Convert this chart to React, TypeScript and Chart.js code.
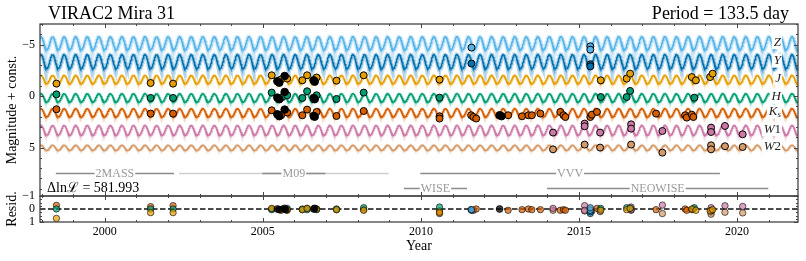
import React, { useEffect, useRef } from "react";
import { Chart, registerables } from "chart.js";
Chart.register(...registerables);

// ---------------- data ----------------
const TITLE_LEFT = "VIRAC2 Mira 31";
const TITLE_RIGHT = "Period = 133.5 day";
const LIKELIHOOD_TEXT = "\u0394ln\u2112 = 581.993";
const PERIOD_DAYS = 133.5;
const BRIGHT_EPOCH = 2005.66; // epoch of model maximum brightness

const X_RANGE = [1997.95, 2021.93];
const X_MAJOR = [2000, 2005, 2010, 2015, 2020];
const MAIN_Y_RANGE = [-7, 9.7];
const MAIN_Y_TICKS = [-5, 0, 5];
const RES_Y_RANGE = [-1, 1];
const RES_Y_TICKS = [-1, 0, 1];

const BANDS = ["Z", "Y", "J", "H", "Ks", "W1", "W2"];
const BAND_MEAN = [-5.13, -3.35, -1.61, 0.17, 1.62, 3.32, 5.02];
const BAND_AMP = [0.63, 0.68, 0.4, 0.4, 0.4, 0.47, 0.25];

const Z_OBS = [[2011.6, -4.71], [2015.36, -4.83], [2015.36, -4.51]];
const Y_OBS = [[2011.6, -3.16], [2015.36, -3.09], [2015.36, -2.89]];
const J_OBS = [[1998.47, -1.21], [2001.45, -1.27], [2002.16, -1.21], [2005.28, -2.02], [2005.58, -1.63], [2005.77, -1.7], [2006.25, -1.53], [2006.4, -2.02], [2006.7, -1.8], [2007.33, -1.5], [2008.19, -2.02], [2010.59, -1.6], [2015.69, -1.53], [2016.51, -1.7], [2016.62, -2.18], [2018.57, -1.85], [2018.7, -1.53], [2019.15, -1.85], [2019.23, -2.18]];
const H_OBS = [[1998.47, -0.17], [2001.45, 0.18], [2002.16, 0.18], [2005.28, -0.34], [2005.62, 0.09], [2005.77, -0.08], [2006.25, 0.18], [2006.4, -0.47], [2006.7, -0.08], [2007.33, 0.28], [2008.19, -0.34], [2010.59, 0.15], [2015.69, 0.09], [2016.51, 0.09], [2016.62, -0.5], [2018.65, 0.15]];
const KS_OBS = [[1998.47, 1.28], [2001.45, 1.7], [2002.16, 1.7], [2005.28, 1.38], [2005.58, 1.86], [2005.77, 1.6], [2006.25, 1.86], [2006.4, 1.31], [2006.7, 1.54], [2007.33, 1.93], [2008.19, 1.45], [2010.59, 1.96], [2010.59, 2.18], [2011.59, 1.86], [2011.66, 2.03], [2011.75, 2.18], [2012.76, 1.86], [2013.2, 1.96], [2013.4, 1.86], [2013.51, 1.86], [2013.78, 1.7], [2014.41, 1.54], [2014.51, 1.86], [2014.57, 2.03], [2015.36, 2.03], [2015.41, 1.8], [2015.57, 1.54], [2017.44, 1.7], [2018.36, 1.86], [2018.41, 2.09], [2018.57, 1.8], [2018.62, 2.03]];
const W1_OBS = [[2014.18, 3.54], [2015.18, 2.67], [2015.18, 2.93], [2015.67, 3.54], [2016.65, 2.74], [2016.65, 3.16], [2017.64, 3.39], [2019.18, 3.06], [2019.18, 3.49], [2019.62, 2.9], [2020.18, 3.71]];
const W2_OBS = [[2014.18, 5.17], [2015.18, 4.71], [2015.67, 5.0], [2016.65, 4.71], [2017.64, 5.49], [2019.18, 4.78], [2019.18, 5.17], [2019.62, 4.87], [2020.18, 4.94]];
const M09_OBS = [[2005.46, -1.44], [2005.52, -1.3], [2005.69, -1.95], [2006.61, -1.53], [2006.64, -1.4], [2005.46, 0.15], [2005.52, 0.3], [2005.69, -0.4], [2006.61, 0.18], [2006.64, 0.3], [2005.46, 1.77], [2005.52, 1.95], [2005.69, 1.31], [2006.61, 1.93], [2006.64, 2.0], [2012.49, 1.86], [2012.55, 1.95]];

const Z_RES = [[2011.6, 0.05], [2015.36, 0.1], [2015.36, -0.1]];
const Y_RES = [[2011.6, 0.1], [2015.36, 0.35], [2015.36, 0.2]];
const J_RES = [[1998.47, 0.72], [2001.45, 0.28], [2002.16, 0.28], [2005.28, -0.05], [2005.58, 0.1], [2005.77, 0.05], [2006.25, 0.05], [2006.4, -0.05], [2006.7, 0.0], [2007.33, 0.05], [2008.19, 0.1], [2010.59, 0.25], [2015.69, 0.1], [2016.51, 0.05], [2016.62, -0.05], [2018.57, 0.0], [2018.7, 0.1], [2019.15, 0.15], [2019.23, 0.05]];
const H_RES = [[1998.47, 0.0], [2001.45, 0.0], [2002.16, 0.0], [2005.28, 0.05], [2005.62, 0.0], [2005.77, -0.05], [2006.25, 0.0], [2006.4, 0.05], [2006.7, 0.05], [2007.33, 0.0], [2008.19, -0.1], [2010.59, -0.15], [2015.69, -0.05], [2016.51, -0.1], [2016.62, -0.05], [2018.65, -0.1]];
const KS_RES = [[1998.47, -0.28], [2001.45, -0.18], [2002.16, -0.26], [2005.28, 0.0], [2005.58, 0.05], [2005.77, 0.1], [2006.25, 0.05], [2006.4, -0.05], [2006.7, 0.0], [2007.33, 0.05], [2008.19, 0.05], [2010.59, 0.15], [2010.59, 0.35], [2011.59, 0.05], [2011.66, 0.1], [2011.75, 0.0], [2012.76, 0.1], [2013.2, 0.05], [2013.4, 0.0], [2013.51, 0.05], [2013.78, 0.05], [2014.41, 0.1], [2014.51, 0.05], [2014.57, 0.1], [2015.36, 0.0], [2015.41, 0.15], [2015.57, -0.05], [2017.44, 0.05], [2018.36, 0.0], [2018.41, 0.1], [2018.57, 0.05], [2018.62, 0.0], [2019.18, 0.1]];
const W1_RES = [[2014.18, -0.05], [2015.18, -0.26], [2015.18, 0.1], [2015.67, 0.05], [2016.65, -0.15], [2016.65, 0.05], [2017.64, -0.3], [2019.18, -0.1], [2019.18, 0.15], [2019.62, -0.25], [2020.18, -0.2]];
const W2_RES = [[2014.18, 0.1], [2015.18, 0.15], [2015.67, 0.2], [2016.65, 0.1], [2017.64, 0.35], [2019.18, 0.25], [2019.18, 0.4], [2019.62, 0.25], [2020.18, 0.3]];
const M09_RES = [[2005.46, 0.0], [2005.52, 0.05], [2005.69, -0.05], [2005.72, 0.05], [2006.61, 0.0], [2006.64, -0.05], [2012.49, 0.0]];

const SURVEY_NAMES = ["2MASS", "", "M09", "VVV", "WISE", "NEOWISE"];
const SURVEY_START = [1998.45, 2002.35, 2004.98, 2009.98, 2009.46, 2013.99];
const SURVEY_END = [2002.19, 2008.98, 2006.98, 2019.46, 2011.46, 2020.99];
const SURVEY_ROW = [0, 0, 0, 0, 1, 1];

// ---------------- styles ----------------
const SERIF = "'Liberation Serif', 'Times New Roman', 'DejaVu Serif', serif";
const AXIS = "#444444";
const BAND_COLORS = ["#56B4E9", "#0072B2", "#E69F00", "#009E73", "#D55E00", "#CC79A7", "#D69A68"];
const SURVEY_ROW_MAG = [7.5, 8.95];

function rgba(hex: string, a: number) {
  const n = parseInt(hex.slice(1), 16);
  return `rgba(${(n >> 16) & 255},${(n >> 8) & 255},${n & 255},${a})`;
}
const fmtTick = (v: number) => (v < 0 ? "\u2212" + Math.abs(v) : String(v));
const toXY = (arr: number[][]) => arr.map(([x, y]) => ({ x, y }));

function modelCurve(i: number) {
  const p = PERIOD_DAYS / 365.25;
  const pts: { x: number; y: number }[] = [];
  const n = Math.round((X_RANGE[1] - X_RANGE[0]) / 0.01);
  for (let k = 0; k <= n; k++) {
    const t = X_RANGE[0] + (k * (X_RANGE[1] - X_RANGE[0])) / n;
    pts.push({ x: t, y: BAND_MEAN[i] - BAND_AMP[i] * Math.cos((2 * Math.PI * (t - BRIGHT_EPOCH)) / p) });
  }
  return pts;
}

function drawTicks(chart: any, yMajor: number[], yMinorStep: number) {
  const { ctx, chartArea: a, scales } = chart;
  const x = scales.x, y = scales.y;
  ctx.save();
  ctx.strokeStyle = AXIS;
  ctx.lineWidth = 1;
  ctx.beginPath();
  for (let yr = Math.ceil(X_RANGE[0]); yr <= X_RANGE[1]; yr++) {
    const len = X_MAJOR.includes(yr) ? 4 : 2;
    const px = Math.round(x.getPixelForValue(yr)) + 0.5;
    ctx.moveTo(px, a.bottom); ctx.lineTo(px, a.bottom - len);
    ctx.moveTo(px, a.top); ctx.lineTo(px, a.top + len);
  }
  const lo = Math.min(y.min, y.max), hi = Math.max(y.min, y.max);
  const start = Math.ceil(lo / yMinorStep - 1e-9);
  for (let k = start; k * yMinorStep <= hi + 1e-9; k++) {
    const v = +(k * yMinorStep).toFixed(4);
    const len = yMajor.includes(v) ? 4 : 2;
    const py = Math.round(y.getPixelForValue(v)) + 0.5;
    ctx.moveTo(a.left, py); ctx.lineTo(a.left + len, py);
    ctx.moveTo(a.right, py); ctx.lineTo(a.right - len, py);
  }
  ctx.stroke();
  ctx.lineWidth = 1.3;
  ctx.strokeRect(a.left, a.top, a.right - a.left, a.bottom - a.top);
  ctx.restore();
}

const mainDecor = {
  id: "mainDecor",
  afterDatasetsDraw(chart: any) {
    const { ctx, chartArea: a, scales } = chart;
    const x = scales.x, y = scales.y;
    ctx.save();
    // band labels with white boxes
    BANDS.forEach((b, i) => {
      const py = y.getPixelForValue(BAND_MEAN[i]) - 1;
      const right = 781;
      const big = `italic 13px ${SERIF}`;
      let parts: [string, string, number][] = [];
      if (b === "Ks") parts = [["K", big, 0], ["s", `italic 9px ${SERIF}`, 3]];
      else if (b === "W1" || b === "W2") parts = [["W", big, 0], [b[1], `13px ${SERIF}`, 0]];
      else parts = [[b, big, 0]];
      const widths = parts.map(([t, f]) => { ctx.font = f; return ctx.measureText(t).width; });
      const total = widths.reduce((s, w) => s + w, 0);
      let left = right - total;
      ctx.fillStyle = "#ffffff";
      ctx.fillRect(left - 2, py - 7, total + 3, 14);
      ctx.fillStyle = "#222";
      ctx.textBaseline = "middle";
      ctx.textAlign = "left";
      parts.forEach(([t, f, dy], k) => {
        ctx.font = f;
        ctx.fillText(t, left, py + dy);
        left += widths[k];
      });
    });
    // survey bars
    SURVEY_NAMES.forEach((name, i) => {
      const x0 = x.getPixelForValue(SURVEY_START[i]);
      const x1 = x.getPixelForValue(SURVEY_END[i]);
      const py = Math.round(y.getPixelForValue(SURVEY_ROW_MAG[SURVEY_ROW[i]])) + 0.5;
      ctx.strokeStyle = name ? "#8c8c8c" : "#cfcfcf";
      ctx.lineWidth = 1.5;
      ctx.beginPath(); ctx.moveTo(x0, py); ctx.lineTo(x1, py); ctx.stroke();
      if (name) {
        ctx.font = `12px ${SERIF}`;
        const w = ctx.measureText(name).width;
        const cx = (x0 + x1) / 2;
        ctx.fillStyle = "#fff";
        ctx.fillRect(cx - w / 2 - 1, py - 6, w + 2, 12);
        ctx.fillStyle = "#999";
        ctx.textAlign = "center"; ctx.textBaseline = "middle";
        ctx.fillText(name, cx, py + 0.5);
      }
    });
    // likelihood text
    ctx.fillStyle = "#000";
    ctx.font = `14px ${SERIF}`;
    ctx.textAlign = "left"; ctx.textBaseline = "middle";
    ctx.fillText(LIKELIHOOD_TEXT, a.left + 7, 188);
    // titles
    ctx.font = `18px ${SERIF}`;
    ctx.textBaseline = "alphabetic";
    ctx.textAlign = "left";
    ctx.fillText(TITLE_LEFT, 48, 19);
    ctx.textAlign = "right";
    ctx.fillText(TITLE_RIGHT, 789, 19);
    ctx.restore();
    drawTicks(chart, MAIN_Y_TICKS, 1);
  },
};

const resDecor = {
  id: "resDecor",
  afterDatasetsDraw(chart: any) {
    drawTicks(chart, RES_Y_TICKS, 0.25);
  },
};

const OBS = [Z_OBS, Y_OBS, J_OBS, H_OBS, KS_OBS, W1_OBS, W2_OBS];
const RES = [Z_RES, Y_RES, J_RES, H_RES, KS_RES, W1_RES, W2_RES];

function mainConfig(): any {
  const datasets: any[] = [];
  BANDS.forEach((b, i) => {
    const curve = modelCurve(i);
    datasets.push({ label: b + " band", data: curve, showLine: true, pointRadius: 0, borderColor: rgba(BAND_COLORS[i], i < 2 ? 0.3 : 0.22), borderWidth: i < 2 ? 4 : 3, order: 20 });
    datasets.push({ label: b + " model", data: curve, showLine: true, pointRadius: 0, borderColor: BAND_COLORS[i], borderWidth: 1.5, order: 10 });
  });
  BANDS.forEach((b, i) => {
    datasets.push({ label: b, data: toXY(OBS[i]), pointRadius: 3.5, borderWidth: 1, borderColor: "#000", backgroundColor: BAND_COLORS[i], order: 1 });
  });
  datasets.push({ label: "M09", data: toXY(M09_OBS), pointRadius: 3.8, borderWidth: 1, borderColor: "#000", backgroundColor: "#000", order: 0 });
  return {
    type: "scatter",
    data: { datasets },
    options: {
      responsive: false, animation: false, devicePixelRatio: 1, events: [],
      layout: { padding: { left: 0, right: 8, top: 24, bottom: 65 } },
      plugins: { legend: { display: false }, tooltip: { enabled: false } },
      scales: {
        x: { type: "linear", min: X_RANGE[0], max: X_RANGE[1], display: false },
        y: {
          type: "linear", reverse: true, min: MAIN_Y_RANGE[0], max: MAIN_Y_RANGE[1], position: "left",
          grid: { display: false, drawTicks: false }, border: { display: false },
          afterBuildTicks: (s: any) => { s.ticks = MAIN_Y_TICKS.map((v) => ({ value: v })); },
          afterFit: (s: any) => { s.width = 40; },
          ticks: { color: "#000", font: { family: SERIF, size: 12 }, padding: 5, autoSkip: false, callback: (v: any) => fmtTick(+v) },
          title: { display: true, text: "Magnitude + const.", color: "#000", font: { family: SERIF, size: 14 }, padding: { top: 4, bottom: 0 } },
        },
      },
    },
    plugins: [mainDecor],
  };
}

function resConfig(): any {
  const datasets: any[] = [];
  datasets.push({ label: "zero", data: [{ x: X_RANGE[0], y: 0 }, { x: X_RANGE[1], y: 0 }], showLine: true, pointRadius: 0, borderColor: "#111", borderWidth: 1.5, borderDash: [5.5, 2.5], order: 20 });
  BANDS.forEach((b, i) => {
    datasets.push({ label: b + " resid", data: toXY(RES[i]), pointRadius: 3.2, borderWidth: 1, borderColor: "rgba(0,0,0,0.6)", backgroundColor: rgba(BAND_COLORS[i], 0.7), order: 1 });
  });
  datasets.push({ label: "M09 resid", data: toXY(M09_RES), pointRadius: 3.4, borderWidth: 1, borderColor: "rgba(0,0,0,0.7)", backgroundColor: "rgba(0,0,0,0.75)", order: 0 });
  return {
    type: "scatter",
    data: { datasets },
    options: {
      responsive: false, animation: false, devicePixelRatio: 1, events: [],
      layout: { padding: { left: 0, right: 8, top: 196, bottom: 0 } },
      plugins: { legend: { display: false }, tooltip: { enabled: false } },
      scales: {
        x: {
          type: "linear", min: X_RANGE[0], max: X_RANGE[1], position: "bottom",
          grid: { display: false, drawTicks: false }, border: { display: false },
          afterBuildTicks: (s: any) => { s.ticks = X_MAJOR.map((v) => ({ value: v })); },
          afterFit: (s: any) => { s.height = 39; },
          ticks: { color: "#000", font: { family: SERIF, size: 12 }, padding: 3, maxRotation: 0, autoSkip: false, callback: (v: any) => String(v) },
          title: { display: true, text: "Year", color: "#000", font: { family: SERIF, size: 14 }, padding: { top: 0, bottom: 6 } },
        },
        y: {
          type: "linear", reverse: true, min: RES_Y_RANGE[0], max: RES_Y_RANGE[1], position: "left",
          grid: { display: false, drawTicks: false }, border: { display: false },
          afterBuildTicks: (s: any) => { s.ticks = RES_Y_TICKS.map((v) => ({ value: v })); },
          afterFit: (s: any) => { s.width = 40; },
          ticks: { color: "#000", font: { family: SERIF, size: 12 }, padding: 5, autoSkip: false, callback: (v: any) => fmtTick(+v) },
          title: { display: true, text: "Resid.", color: "#000", font: { family: SERIF, size: 14 }, padding: { top: 4, bottom: 0 } },
        },
      },
    },
    plugins: [resDecor],
  };
}

export default function App() {
  const mainRef = useRef<HTMLCanvasElement>(null);
  const resRef = useRef<HTMLCanvasElement>(null);
  useEffect(() => {
    const c1 = new Chart(mainRef.current as HTMLCanvasElement, mainConfig());
    const c2 = new Chart(resRef.current as HTMLCanvasElement, resConfig());
    return () => { c1.destroy(); c2.destroy(); };
  }, []);
  const cs: React.CSSProperties = { position: "absolute", left: 0, top: 0, width: 806, height: 261 };
  return (
    <div style={{ position: "fixed", left: 0, top: 0, width: 806, height: 261, background: "#fff" }}>
      <canvas ref={mainRef} width={806} height={261} style={cs} />
      <canvas ref={resRef} width={806} height={261} style={cs} />
    </div>
  );
}
